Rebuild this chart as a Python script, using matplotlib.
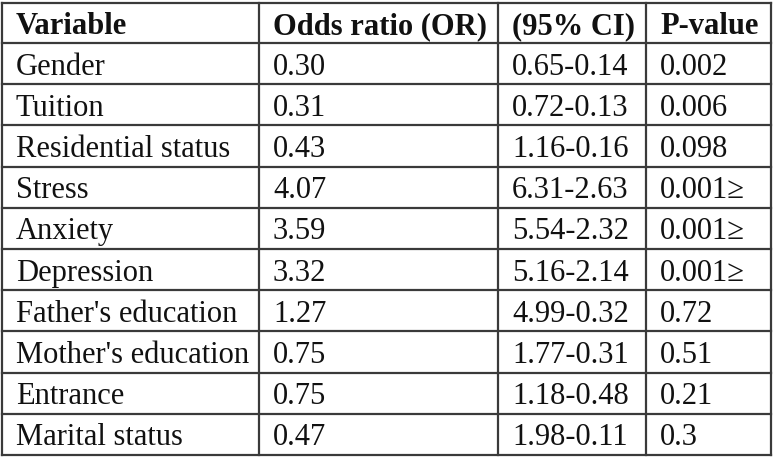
import matplotlib
matplotlib.use("Agg")
import matplotlib.pyplot as plt

# table content
headers = ["Variable", "Odds ratio (OR)", "(95% CI)", "P-value"]
variables = ["Gender", "Tuition", "Residential status", "Stress", "Anxiety",
             "Depression", "Father's education", "Mother's education",
             "Entrance", "Marital status"]
odds_ratio = ["0.30", "0.31", "0.43", "4.07", "3.59", "3.32", "1.27", "0.75",
              "0.75", "0.47"]
ci95 = ["0.65-0.14", "0.72-0.13", "1.16-0.16", "6.31-2.63", "5.54-2.32",
        "5.16-2.14", "4.99-0.32", "1.77-0.31", "1.18-0.48", "1.98-0.11"]
p_value = ["0.002", "0.006", "0.098", "0.001\u2265", "0.001\u2265",
           "0.001\u2265", "0.72", "0.51", "0.21", "0.3"]

W, H = 774, 458
col_edges = [2, 259, 498, 646, 771]
row_top, header_h, row_h = 3, 40, 41.2
pad = 14
line_color = "#3a3a3a"
text_color = "#111111"

fig = plt.figure(figsize=(W / 100, H / 100), dpi=100)
ax = fig.add_axes([0, 0, 1, 1])
ax.set_xlim(0, W)
ax.set_ylim(H, 0)
ax.axis("off")

n = len(variables)
row_edges = [row_top, row_top + header_h] + [row_top + header_h + row_h * (i + 1) for i in range(n)]

for y in row_edges:
    ax.plot([col_edges[0], col_edges[-1]], [y, y], color=line_color, lw=1.6,
            solid_capstyle="projecting")
for x in col_edges:
    ax.plot([x, x], [row_edges[0], row_edges[-1]], color=line_color, lw=1.6,
            solid_capstyle="projecting")

font = ["Liberation Serif", "DejaVu Serif"]
fs = 22

for j, h in enumerate(headers):
    ax.text(col_edges[j] + pad, (row_edges[0] + row_edges[1]) / 2, h,
            fontsize=fs, fontweight="bold", family=font, color=text_color,
            va="center_baseline", ha="left")

columns = [variables, odds_ratio, ci95, p_value]
for i in range(n):
    yc = (row_edges[i + 1] + row_edges[i + 2]) / 2
    for j, col in enumerate(columns):
        ax.text(col_edges[j] + pad, yc, col[i], fontsize=fs, family=font,
                color=text_color, va="center_baseline", ha="left")

fig.savefig("out.png", dpi=100)
